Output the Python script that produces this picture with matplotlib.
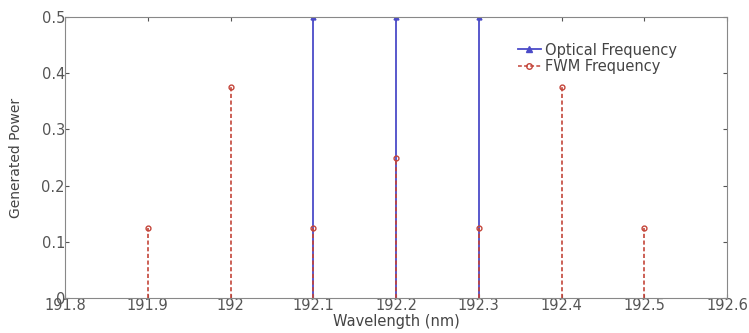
import matplotlib.pyplot as plt
from matplotlib.lines import Line2D

plt.rcParams['font.family'] = ['DejaVu Sans']

opt_freq = [192.1, 192.2, 192.3]
opt_power = [0.5, 0.5, 0.5]
fwm_freq = [191.9, 192.0, 192.1, 192.2, 192.3, 192.4, 192.5]
fwm_power = [0.125, 0.375, 0.125, 0.25, 0.125, 0.375, 0.125]
xticks = [191.8, 191.9, 192.0, 192.1, 192.2, 192.3, 192.4, 192.5, 192.6]
xlabels = ['191.8', '191.9', '192', '192.1', '192.2', '192.3', '192.4', '192.5', '192.6']
yticks = [0, 0.1, 0.2, 0.3, 0.4, 0.5]

blue = '#4b4bc8'
red = '#c4453a'

fig = plt.figure(figsize=(7.49, 3.33), dpi=100)
ax = fig.add_axes([65 / 749, 1 - 298 / 333, (727 - 65) / 749, (298 - 17) / 333])

m, s, b = ax.stem(opt_freq, opt_power, linefmt='-', markerfmt='^', basefmt=' ')
plt.setp(s, color=blue, linewidth=1.3)
plt.setp(m, color=blue, markersize=3.5)

m2, s2, b2 = ax.stem(fwm_freq, fwm_power, linefmt='--', markerfmt='o', basefmt=' ')
plt.setp(s2, color=red, linewidth=1.2, linestyle=(0, (2.5, 1.5)))
plt.setp(m2, markeredgecolor=red, markerfacecolor='none', markersize=3.5)

ax.set_xlim(191.8, 192.6)
ax.set_ylim(0, 0.5)
ax.set_xticks(xticks)
ax.set_xticklabels(xlabels)
ax.set_yticks(yticks)
ax.set_yticklabels(['0', '0.1', '0.2', '0.3', '0.4', '0.5'])
ax.tick_params(direction='in', top=True, right=True, labelsize=10.5, colors='#555555',
               length=3, pad=0)
for sp in ax.spines.values():
    sp.set_color('#888888')

ax.set_xlabel('Wavelength (nm)', fontsize=10.5, color='#444444', labelpad=1)
ax.set_ylabel('Generated Power', fontsize=10, color='#444444')
ax.yaxis.set_label_coords(-0.063, 0.5)

handles = [
    Line2D([], [], color=blue, linewidth=1.3, marker='^', markersize=4,
           label='Optical Frequency'),
    Line2D([], [], color=red, linewidth=1.1, linestyle=(0, (2.5, 1.5)), marker='o',
           markersize=4, markerfacecolor='none', label='FWM Frequency'),
]
leg = ax.legend(handles=handles, loc='upper left', frameon=False, fontsize=10.5,
                handlelength=1.6, handletextpad=0.3, labelspacing=0.1,
                borderaxespad=0, bbox_to_anchor=(0.675, 0.93), markerfirst=True)
for t in leg.get_texts():
    t.set_color('#444444')

fig.savefig('out.png', dpi=100)
